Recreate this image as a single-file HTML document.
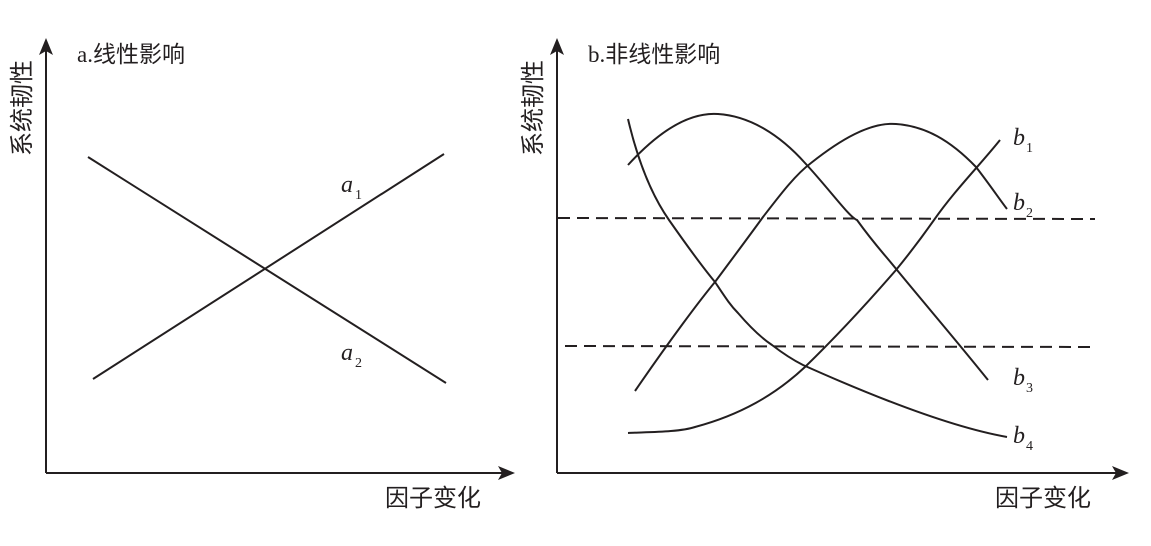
<!DOCTYPE html>
<html><head><meta charset="utf-8"><style>
html,body{margin:0;padding:0;background:#fff;}
svg{display:block;}
text{font-family:"Liberation Serif","Noto Serif CJK SC","Noto Sans CJK SC",serif;fill:#231f20;}
.cj{font-family:"Liberation Serif","Noto Sans CJK SC",sans-serif;}
</style></head><body>
<svg width="1151" height="546" viewBox="0 0 1151 546" xmlns="http://www.w3.org/2000/svg">
<g stroke="#231f20" stroke-width="2" fill="none">
<line x1="46" y1="473" x2="46" y2="50"/>
<line x1="46" y1="473" x2="503" y2="473"/>
<line x1="88" y1="157" x2="446" y2="383"/>
<line x1="93" y1="379" x2="444" y2="154"/>
<line x1="557" y1="473" x2="557" y2="50"/>
<line x1="557" y1="473" x2="1117" y2="473"/>
<line x1="558" y1="218" x2="1095" y2="219" stroke-dasharray="12,7"/>
<line x1="565" y1="346" x2="1097" y2="347" stroke-dasharray="12,7"/>
<path d="M628,165 C660,130 690,112 718,114 C750,116 780,135 805,163 C830,190 850,218 857,220 C875,245 885,255 897,270 C930,310 960,345 988,380"/>
<path d="M628,119 C640,170 655,200 669,220 C690,250 705,270 715,282 C725,297 730,305 738,313 C750,327 760,337 772,345 C785,355 795,361 803,365 C870,395 950,427 1007,437"/>
<path d="M635,391 C670,340 700,300 715,282 C735,255 750,235 763,217 C780,195 795,175 811,163 C840,140 870,122 896,124 C925,126 950,140 976,167 C990,185 1000,200 1007,209"/>
<path d="M628,433 C650,432 680,432 695,427 C740,415 775,395 805,367 C840,333 870,300 896,270 C910,253 922,237 934,220 C955,190 980,165 1000,140"/>
</g>
<g fill="#231f20">
<polygon points="46,38 39,55 46,51 53,55"/>
<polygon points="515,473 498,466 502,473 498,480"/>
<polygon points="557,38 550,55 557,51 564,55"/>
<polygon points="1129,473 1112,466 1116,473 1112,480"/>
</g>
<text x="77" y="62" font-size="23" class="cj">a.线性影响</text>
<text x="588" y="62" font-size="23" class="cj">b.非线性影响</text>
<text transform="translate(30,156) rotate(-90)" font-size="24" class="cj">系统韧性</text>
<text transform="translate(541,156) rotate(-90)" font-size="24" class="cj">系统韧性</text>
<text x="385" y="506" font-size="24" class="cj">因子变化</text>
<text x="995" y="506" font-size="24" class="cj">因子变化</text>
<g font-style="italic" font-size="24">
<text x="341" y="192">a</text><text x="341" y="360">a</text>
<text x="1013" y="145">b</text><text x="1013" y="210">b</text>
<text x="1013" y="385">b</text><text x="1013" y="443">b</text>
</g>
<g font-size="14">
<text x="355" y="199">1</text><text x="355" y="367">2</text>
<text x="1026" y="152">1</text><text x="1026" y="217">2</text>
<text x="1026" y="392">3</text><text x="1026" y="450">4</text>
</g>
</svg>
</body></html>
